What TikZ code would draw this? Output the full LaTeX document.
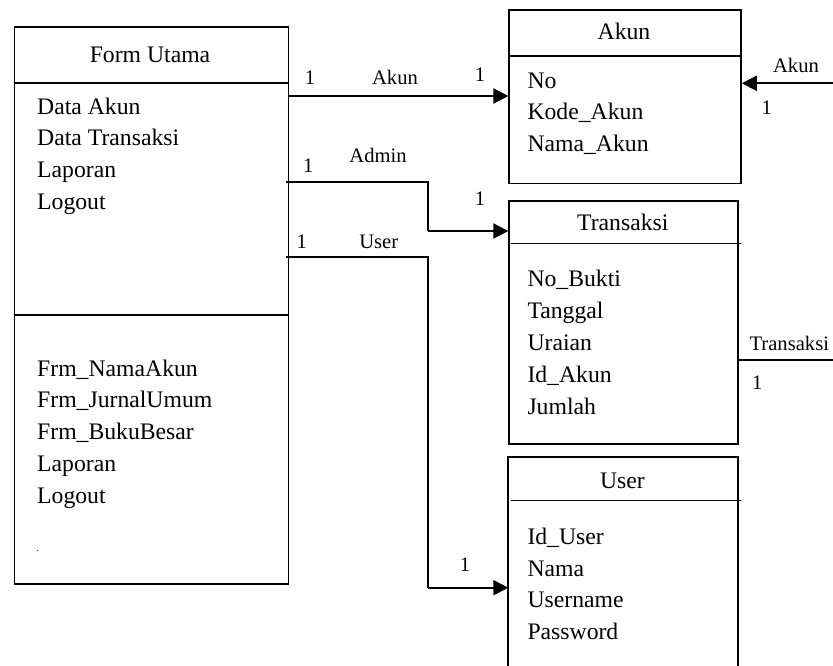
\documentclass[tikz,border=0pt]{standalone}
\usepackage{fontspec}
\setmainfont{Liberation Serif}
\usetikzlibrary{arrows.meta}
\tikzset{
  box/.style={draw, line width=1.8pt, rectangle, inner sep=0pt, anchor=north west},
  openbox/.style={rectangle, inner sep=0pt, anchor=north west},
  divider/.style={line width=1.8pt},
  conn/.style={line width=2pt},
  arr/.style={conn, -{Triangle[length=15pt,width=15pt]}},
  thin/.style={line width=1.4pt},
  body/.style={font=\fontsize{23.7}{28}\selectfont, inner sep=0pt, anchor=base west},
  title/.style={font=\fontsize{23.7}{28}\selectfont, inner sep=0pt, anchor=base},
  lbl/.style={font=\fontsize{20.6}{24}\selectfont, inner sep=0pt, anchor=base},
}
\begin{document}
\begin{tikzpicture}[x=1pt,y=-1pt]
\useasboundingbox[fill=white] (0,0) rectangle (833,666);

% ---- boxes ----
\node[box, minimum width=274pt, minimum height=557pt] (form) at (13.5,25.8) {};
\node[box, minimum width=231.7pt, minimum height=173.7pt] (akun) at (508.3,9) {};
\node[box, minimum width=229pt, minimum height=243.3pt] (trans) at (508.3,200) {};
\node[openbox, minimum width=229pt, minimum height=215pt] (user) at (508.3,457.3) {};
\draw[divider] (user.south west) -- (user.north west) -- (user.north east) -- (user.south east);

% dividers
\coordinate (fh) at (0,83);
\coordinate (fm) at (0,315);
\coordinate (ah) at (0,55.7);
\draw[divider] (form.west |- fh) -- (form.east |- fh);
\draw[divider] (form.west |- fm) -- (form.east |- fm);
\draw[divider] (akun.west |- ah) -- (akun.east |- ah);
\coordinate (th1) at (510.7,243.3);
\coordinate (th2) at (740.7,243.3);
\draw[thin] (th1) -- (th2);
\coordinate (uh1) at (510.7,500.7);
\coordinate (uh2) at (740.7,500.7);
\draw[thin] (uh1) -- (uh2);

% ---- titles ----
\node[title] (tform) at (150,62.3) {Form Utama};
\node[title] (takun) at (624,40) {Akun};
\node[title] (ttrans) at (622.8,230) {Transaksi};
\node[title] (tuser) at (622.5,488.3) {User};

% ---- Form Utama items ----
\node[body] (f1) at (37,114.7) {Data Akun};
\node[body] (f2) at (37,145.9) {Data Transaksi};
\node[body] (f3) at (37,177.4) {Laporan};
\node[body] (f4) at (37,209) {Logout};
\node[body] (f5) at (37,376) {Frm\_NamaAkun};
\node[body] (f6) at (37,407.7) {Frm\_JurnalUmum};
\node[body] (f7) at (37,439.7) {Frm\_BukuBesar};
\node[body] (f8) at (37,471.7) {Laporan};
\node[body] (f9) at (37,503) {Logout};
\node[lbl, anchor=base west, font=\fontsize{10}{12}\selectfont] (fdot) at (36.5,551.7) {.};

% ---- Akun items ----
\node[body] (a1) at (527.3,88.3) {No};
\node[body] (a2) at (527.3,119.6) {Kode\_Akun};
\node[body] (a3) at (527.3,151.4) {Nama\_Akun};

% ---- Transaksi items ----
\node[body] (t1) at (527.3,286.7) {No\_Bukti};
\node[body] (t2) at (527.3,318.4) {Tanggal};
\node[body] (t3) at (527.3,350.4) {Uraian};
\node[body] (t4) at (527.3,382.4) {Id\_Akun};
\node[body] (t5) at (527.3,414) {Jumlah};

% ---- User items ----
\node[body] (u1) at (527.3,544) {Id\_User};
\node[body] (u2) at (527.3,576) {Nama};
\node[body] (u3) at (527.3,607.6) {Username};
\node[body] (u4) at (527.3,639.4) {Password};

% ---- connectors ----
\coordinate (yakun) at (0,96);
\draw[arr] (form.east |- yakun) -- (akun.west |- yakun);

\coordinate (adm0) at (286,181.7);
\coordinate (adm1) at (428.3,181.7);
\coordinate (adm2) at (428.3,231);
\draw[conn] (adm0) -- (adm1) -- (adm2);
\draw[arr] (adm2) -- (trans.west |- adm2);

\coordinate (usr0) at (286,257.3);
\coordinate (usr1) at (428.3,257.3);
\coordinate (usr2) at (428.3,587.7);
\draw[conn] (usr0) -- (usr1) -- (usr2);
\draw[arr] (usr2) -- (user.west |- usr2);

\coordinate (akunin) at (834,83.3);
\draw[arr] (akunin) -- (akun.east |- akunin);

\coordinate (transout) at (834,360);
\draw[thin] (trans.east |- transout) -- (transout);

% ---- labels ----
\node[lbl] (l1) at (310,85) {1};
\node[lbl] (l2) at (395,85) {Akun};
\node[lbl] (l3) at (480,81.7) {1};
\node[lbl] (l4) at (308.3,173) {1};
\node[lbl] (l5) at (378,163) {Admin};
\node[lbl] (l6) at (480,205) {1};
\node[lbl] (l7) at (301.7,248.3) {1};
\node[lbl] (l8) at (378.8,248.3) {User};
\node[lbl] (l9) at (465,571.7) {1};
\node[lbl] (l10) at (796,72.7) {Akun};
\node[lbl] (l11) at (766.7,114.3) {1};
\node[lbl] (l12) at (789.3,350) {Transaksi};
\node[lbl] (l13) at (757.3,389.3) {1};
\end{tikzpicture}
\end{document}
